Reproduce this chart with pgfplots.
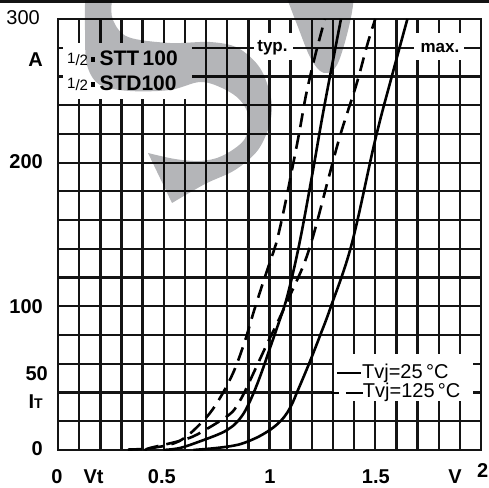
\documentclass[border=0pt]{standalone}
\usepackage{fontspec}
\setmainfont{Liberation Sans}
\usepackage{pgfplots}
\pgfplotsset{compat=1.18}

\definecolor{gridblack}{HTML}{141414}
\definecolor{wmgray}{RGB}{180,181,184}

\newcommand\tl{\fontsize{20}{20}\selectfont\bfseries}
\newcommand\legfont{\fontsize{20}{20}\selectfont}
\newcommand\half{{\fontsize{15}{15}\selectfont\raisebox{2.5pt}{1}/2}\hspace{2.5pt}\rule[4pt]{4pt}{5pt}\hspace{5pt}}

% forward characteristics I_T(V_T)
% typ., Tvj = 125 C
\pgfplotstableread{
v      i
0.33   0.3
0.45   1.5
0.577  6.5
0.687  20.4
0.758  34.3
0.829  54.0
0.884  76.0
0.927  97.0
0.975  119.0
1.021  139.0
1.037  147.0
1.065  165.0
1.100  190.3
1.140  220.4
1.171  245.9
1.203  266.8
1.229  282.0
1.262  300.0
}\typhot
% typ., Tvj = 25 C
\pgfplotstableread{
v      i
0.498  0.0
0.577  1.4
0.671  6.0
0.760  11.0
0.800  14.0
0.840  18.5
0.880  26.0
0.920  38.0
0.960  53.0
1.000  70.0
1.040  87.0
1.084  107.0
1.140  142.7
1.200  190.0
1.250  232.0
1.300  271.0
1.338  300.0
}\typcold
% max., Tvj = 125 C
\pgfplotstableread{
v      i
0.42   0.2
0.435  1.4
0.608  7.7
0.703  14.6
0.813  25.0
0.850  32.0
0.881  40.0
0.940  58.5
1.000  77.5
1.029  86.0
1.100  108.6
1.163  129.5
1.210  150.8
1.281  190.3
1.337  220.4
1.412  255.0
1.462  282.0
1.500  300.0
}\maxhot
% max., Tvj = 25 C
\pgfplotstableread{
v      i
0.640  0.0
0.750  1.4
0.829  3.0
0.879  4.9
0.942  8.8
0.990  12.8
1.021  16.0
1.055  20.5
1.084  26.0
1.108  32.5
1.131  40.5
1.160  50.5
1.195  63.0
1.240  80.0
1.289  99.3
1.388  143.0
1.500  216.0
1.580  261.0
1.652  300.0
}\maxcold

\begin{document}
\begin{tikzpicture}[x=1pt,y=1pt]
\path[use as bounding box] (0,0) rectangle (489,487);
\fill[gridblack] (0,484.3) rectangle (489,487);
\begin{axis}[
  at={(58pt,37pt)}, anchor=south west,
  scale only axis, width=423pt, height=431pt,
  xmin=0, xmax=2, ymin=0, ymax=300,
  xtick={0,0.1,0.2,0.3,0.4,0.5,0.6,0.7,0.8,0.9,1,1.1,1.2,1.3,1.4,1.5,1.6,1.7,1.8,1.9,2},
  ytick={0,20,...,300},
  xticklabels={}, yticklabels={},
  major tick length=0pt,
  grid=major,
  x grid style={line width=2.4pt, draw=gridblack},
  y grid style={line width=2.2pt, draw=gridblack},
  axis line style={line width=2.2pt, draw=gridblack},
  clip mode=individual,
]
% curves
\addplot[line width=2.6pt, smooth, tension=0.6, dash pattern=on 14pt off 8pt] table[x=v,y=i] {\typhot};
\addplot[line width=2.6pt, smooth, tension=0.6] table[x=v,y=i] {\typcold};
\addplot[line width=2.6pt, smooth, tension=0.6, dash pattern=on 14pt off 8pt] table[x=v,y=i] {\maxhot};
\addplot[line width=2.6pt, smooth, tension=0.6] table[x=v,y=i] {\maxcold};

% label boxes
\fill[white] (axis cs:0.024,244.3) rectangle (axis cs:0.634,283.3);
\fill[white] (axis cs:0.927,271.5) rectangle (axis cs:1.111,290.2);
\fill[white] (axis cs:1.683,271.5) rectangle (axis cs:1.920,290.2);
\fill[white] (axis cs:1.305,34.1) rectangle (axis cs:1.962,66.8);

\node[anchor=base west, inner sep=0] at (axis cs:0.0426,267.3)
  {\half{\fontsize{21}{21}\selectfont\bfseries STT\,100}};
\node[anchor=base west, inner sep=0] at (axis cs:0.0426,249.9)
  {\half{\fontsize{21}{21}\selectfont\bfseries STD100}};
\node[anchor=base, inner sep=0] at (axis cs:1.014,277.3) {\fontsize{17}{17}\selectfont\bfseries typ.};
\node[anchor=base, inner sep=0] at (axis cs:1.806,276.8) {\fontsize{17}{17}\selectfont\bfseries max.};

% legend
\draw[line width=2.6pt] (axis cs:1.319,53.6) -- (axis cs:1.433,53.6);
\draw[line width=2.6pt, dash pattern=on 8pt off 7pt on 18pt off 10pt] (axis cs:1.29,39.7) -- (axis cs:1.44,39.7);
\node[anchor=base west, inner sep=0] at (axis cs:1.437,50.1) {\legfont Tvj=25\,°C};
\node[anchor=base west, inner sep=0] at (axis cs:1.441,36.2) {\legfont Tvj=125\,°C};

% y labels
\node[anchor=east, inner sep=0] at (axis cs:-0.085,300.7) {\fontsize{20}{20}\selectfont 300};
\node[anchor=east, inner sep=0] at (axis cs:-0.071,272) {\tl A};
\node[anchor=east, inner sep=0] at (axis cs:-0.071,201) {\tl 200};
\node[anchor=east, inner sep=0] at (axis cs:-0.071,100) {\tl 100};
\node[anchor=east, inner sep=0] at (axis cs:-0.047,53) {\tl 50};
\node[anchor=east, inner sep=0] at (axis cs:-0.071,33.4) {\tl I{\fontsize{14}{14}\selectfont T}};
\node[anchor=east, inner sep=0] at (axis cs:-0.071,0.7) {\tl 0};

% x labels
\node[anchor=base, inner sep=0] at (axis cs:-0.005,-23) {\tl 0};
\node[anchor=base, inner sep=0] at (axis cs:0.168,-23.5) {\tl Vt};
\node[anchor=base, inner sep=0] at (axis cs:0.491,-23) {\tl 0.5};
\node[anchor=base, inner sep=0] at (axis cs:1.002,-23) {\tl 1};
\node[anchor=base, inner sep=0] at (axis cs:1.503,-23) {\tl 1.5};
\node[anchor=base, inner sep=0] at (axis cs:1.877,-23) {\tl V};
\node[anchor=base, inner sep=0] at (axis cs:2.008,-18.8) {\tl 2};
\end{axis}

% grey S watermark, multiplied over the drawing
\begin{scope}[shift={(0,487)}, yscale=-1, blend mode=multiply]
\fill[wmgray] (148,153) -- (172,203)
  -- plot[smooth, tension=0.55] coordinates {(172,203) (205,184) (235,170) (258,150) (270,123) (271,98) (260,68) (238,48) (210,42) (170,43) (128,37) (113,20) (112,0) (118,-25) (150,-45) (210,-52) (262,-40) (282,-12) (296,22) (309,55) (319,70) (328,73) (337,65) (345,42) (352,12) (353,-8) (345,-40) (320,-70) (270,-95) (200,-100) (130,-85) (95,-50) (86,-10) (85,30) (87,65) (100,85) (130,91) (170,90) (200,82) (222,88) (240,100) (249,118) (244,140) (222,156) (200,161) (175,159) (148,153)}
  -- cycle;
\end{scope}
\end{tikzpicture}
\end{document}
